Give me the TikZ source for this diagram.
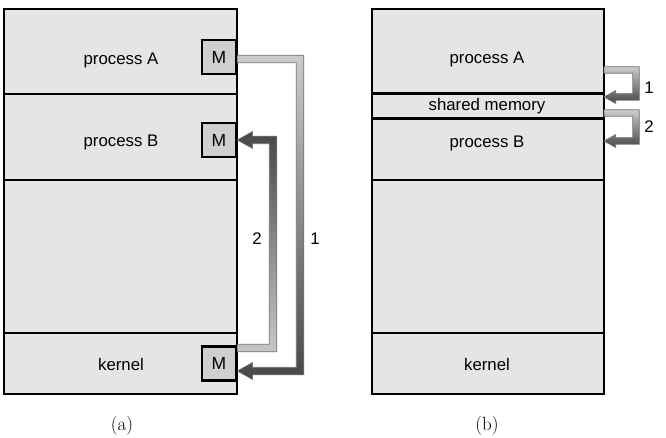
\documentclass[tikz,border=0pt]{standalone}
\usepackage{fontspec}
\newfontfamily\arial{Liberation Sans}
\usetikzlibrary{calc}

\tikzset{
  region/.style={draw=black, line width=1.4pt, fill=black!10, inner sep=0pt, outer sep=0pt},
  mbox/.style={draw=black, line width=2.6pt, fill=black!19, minimum size=34pt, inner sep=0pt, font=\arial\fontsize{17.5}{20}\selectfont},
  txt/.style={font=\arial\fontsize{16.8}{20}\selectfont},
  captxt/.style={font=\fontsize{19}{22}\selectfont},
  pipedown/.style={top color=black!20, bottom color=black!72, draw=black!55, line width=0.6pt},
  pipeup/.style={top color=black!72, bottom color=black!22, draw=black!55, line width=0.6pt},
}

% bent message arrow: from, bend, to, half shaft, half head, style
\newcommand{\memarrow}[6]{%
  \shade[#6] let \p1=(#1), \p2=(#2), \p3=(#3), \n1={ifthenelse(\y3<\y1,1,-1)} in
    (\x1,\y1+\n1*#4) -- (\x2+#4,\y1+\n1*#4) -- (\x2+#4,\y3-\n1*#4)
    -- (\x3+1.8*#5,\y3-\n1*#4) -- (\x3+1.8*#5,\y3-\n1*#5) -- (\p3)
    -- (\x3+1.8*#5,\y3+\n1*#5) -- (\x3+1.8*#5,\y3+\n1*#4)
    -- (\x2-#4,\y3+\n1*#4) -- (\x2-#4,\y1-\n1*#4) -- (\x1,\y1-\n1*#4) -- cycle;}

\begin{document}
\begin{tikzpicture}[x=1pt, y=-1pt]
\useasboundingbox (0,0) rectangle (666,438);

% (a) message passing
\node[region, minimum width=233, minimum height=85] (pA) at (120.5,51.5) {};
\node[region, minimum width=233, minimum height=86] (pB) at (120.5,137) {};
\node[region, minimum width=233, minimum height=153] (pF) at (120.5,256.5) {};
\node[region, minimum width=233, minimum height=61] (pK) at (120.5,363.5) {};
\node[txt] (tA) at (121,60) {process A};
\node[txt] (tB) at (121,142) {process B};
\node[txt] (tK) at (121,364) {kernel};
\node[mbox] (mA) at (219,57) {M};
\node[mbox] (mB) at (219,140) {M};
\node[mbox] (mK) at (219,363.5) {M};

\coordinate (bend1) at (300,220);
\coordinate (bend2) at (273,220);
\coordinate (aout) at ([yshift=-2pt]mA.east);
\coordinate (kin) at ([yshift=-7.5pt]mK.east);
\coordinate (kout) at ([yshift=15.5pt]mK.east);
\memarrow{aout}{bend1}{kin}{3.75pt}{8.5pt}{pipedown}
\memarrow{kout}{bend2}{mB.east}{3.75pt}{8.5pt}{pipeup}
\node[txt] (l1) at (315,239) {1};
\node[txt] (l2) at (257,239) {2};
\node[captxt] (capa) at (122,426) {(a)};

% (b) shared memory
\node[region, minimum width=232, minimum height=85] (rA) at (488,51.5) {};
\node[region, minimum width=232, minimum height=25] (shm) at (488,106.5) {};
\node[region, minimum width=232, minimum height=61] (rB) at (488,149.5) {};
\node[region, minimum width=232, minimum height=153] (rF) at (488,256.5) {};
\node[region, minimum width=232, minimum height=61] (rK) at (488,363.5) {};
\draw[line width=3pt] (shm.north west) -- (shm.north east);
\draw[line width=3pt] (shm.south west) -- (shm.south east);
\node[txt] (sA) at (487,59) {process A};
\node[txt] (sM) at (487,106) {shared memory};
\node[txt] (sB) at (487,143) {process B};
\node[txt] (sK) at (487,364) {kernel};

\coordinate (bend3) at (636,100);
\coordinate (out1) at (604,70);
\coordinate (in1) at (604,97);
\coordinate (out2) at (604,113);
\coordinate (in2) at (604,141);
\memarrow{out1}{bend3}{in1}{3.25pt}{6.5pt}{pipedown}
\memarrow{out2}{bend3}{in2}{3.25pt}{6.5pt}{pipedown}
\node[txt] (r1) at (649,88) {1};
\node[txt] (r2) at (649,127) {2};
\node[captxt] (capb) at (487,426) {(b)};
\end{tikzpicture}
\end{document}
